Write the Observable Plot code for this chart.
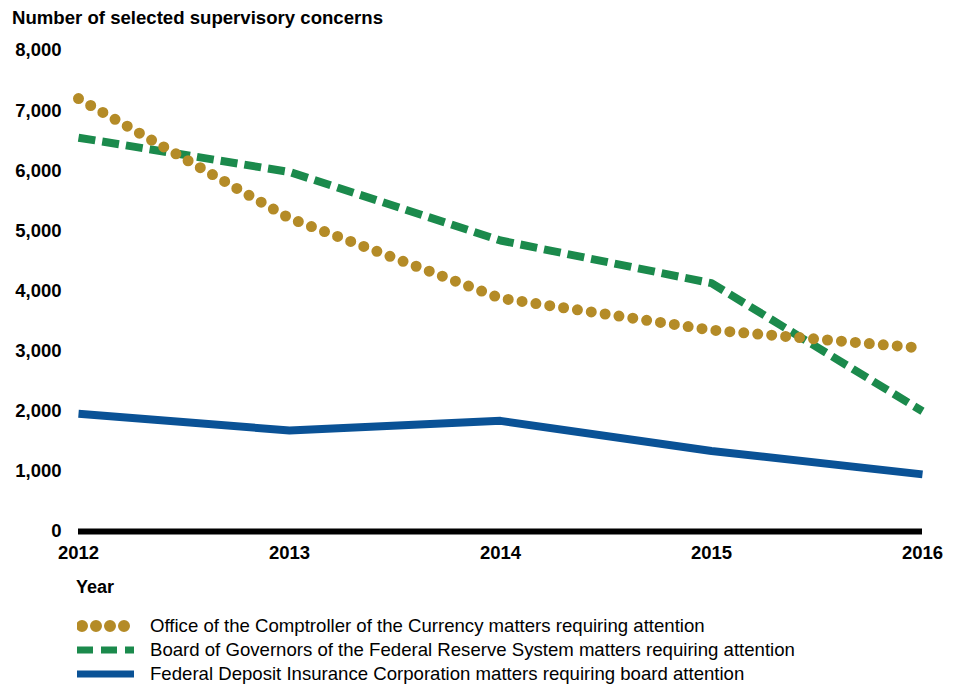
<!DOCTYPE html>
<html>
<head>
<meta charset="utf-8">
<script src="https://cdn.jsdelivr.net/npm/d3@7"></script>
<script src="https://cdn.jsdelivr.net/npm/@observablehq/plot@0.6"></script>
<style>
  body { margin: 0; background: #fff; font-family: "Liberation Sans", Arial, sans-serif; color: #000; }
  #title { position: absolute; left: 12px; top: 6px; font-weight: bold; font-size: 18.6px; line-height: 24px; }
  #chart { position: absolute; left: 0; top: 30px; }
  #year { position: absolute; left: 76px; top: 575px; font-weight: bold; font-size: 18px; line-height: 24px; }
  .row { position: absolute; left: 77px; height: 24px; display: flex; align-items: center; font-size: 18.6px; }
  .row svg { margin-right: 16px; }
</style>
</head>
<body>
<div id="title">Number of selected supervisory concerns</div>
<div id="chart"></div>
<div id="year">Year</div>
<div id="legend"></div>
<script>
const years = [2012, 2013, 2014, 2015, 2016];
const occ = [7200, 5210, 3880, 3350, 3050];
const fed = [6550, 5980, 4840, 4130, 2000];
const fdic = [1960, 1680, 1840, 1340, 950];
const yTicks = [0, 1000, 2000, 3000, 4000, 5000, 6000, 7000, 8000];
const seriesNames = [
  "Office of the Comptroller of the Currency matters requiring attention",
  "Board of Governors of the Federal Reserve System matters requiring attention",
  "Federal Deposit Insurance Corporation matters requiring board attention"
];
const colors = ["#B48B27", "#1B8A4C", "#0A5296"];

const occData = years.map((y, i) => ({year: y, value: occ[i]}));
const fedData = years.map((y, i) => ({year: y, value: fed[i]}));
const fdicData = years.map((y, i) => ({year: y, value: fdic[i]}));

const chart = Plot.plot({
  width: 963,
  height: 540,
  marginTop: 20,
  marginBottom: 39,
  marginLeft: 78,
  marginRight: 41,
  style: {fontFamily: "'Liberation Sans', Arial, sans-serif", fontSize: "18.5px", fontWeight: "bold", color: "#000", background: "#fff"},
  x: {domain: [2012, 2016], ticks: years, tickFormat: d => String(d), tickSize: 0, tickPadding: 14, label: null},
  y: {domain: [0, 8000], ticks: yTicks, tickFormat: d3.format(","), tickSize: 0, tickPadding: 17, label: null},
  marks: [
    Plot.ruleY([0], {stroke: "#000", strokeWidth: 6}),
    Plot.line(fdicData, {x: "year", y: "value", stroke: colors[2], strokeWidth: 8, strokeLinecap: "butt", strokeLinejoin: "miter"}),
    Plot.line(fedData, {x: "year", y: "value", stroke: colors[1], strokeWidth: 8, strokeDasharray: "17,7", strokeLinecap: "butt", strokeLinejoin: "miter"}),
    Plot.line(occData, {x: "year", y: "value", stroke: colors[0], strokeWidth: 11, strokeDasharray: "0,14", strokeLinecap: "round"})
  ]
});
document.getElementById("chart").appendChild(chart);

const legend = document.getElementById("legend");
const dashes = [{dash: "0,14", cap: "round", w: 12, x1: 5}, {dash: "16,8", cap: "butt", w: 7, x1: 0}, {dash: null, cap: "butt", w: 7, x1: 0}];
seriesNames.forEach((name, i) => {
  const row = document.createElement("div");
  row.className = "row";
  row.style.top = (614 + i * 24) + "px";
  const d = dashes[i];
  row.innerHTML = `<svg width="57" height="14"><line x1="${d.x1}" x2="57" y1="7" y2="7" stroke="${colors[i]}" stroke-width="${d.w}" ${d.dash ? `stroke-dasharray="${d.dash}"` : ""} stroke-linecap="${d.cap}"/></svg><span>${name}</span>`;
  legend.appendChild(row);
});
</script>
</body>
</html>
